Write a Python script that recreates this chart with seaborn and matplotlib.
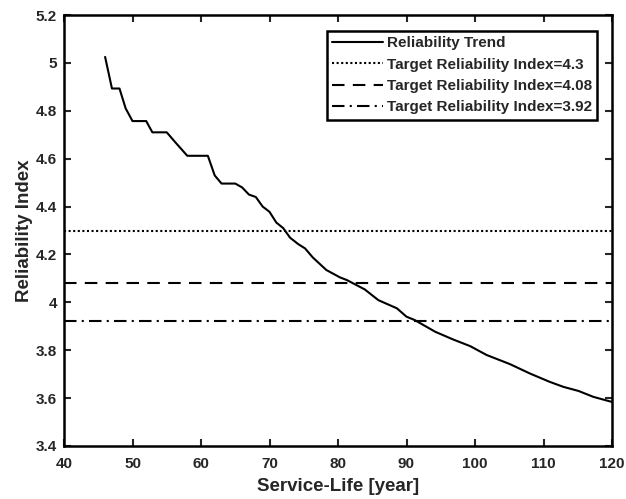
"""Reliability index vs service life with target reliability lines."""
import matplotlib
matplotlib.use("Agg")
import matplotlib.pyplot as plt
import numpy as np
import pandas as pd
import seaborn as sns
from matplotlib.ticker import FuncFormatter, MultipleLocator

# curve
service_life = [
    46.0, 47.0, 48.1, 49.0, 50.0, 52.0, 52.9, 55.0, 56.2, 58.0, 61.0, 62.0,
    63.0, 65.0, 66.0, 67.0, 68.0, 69.0, 70.0, 71.0, 72.0, 73.0, 74.2, 75.2,
    76.3, 78.3, 80.3, 81.3, 83.9, 85.9, 88.6, 90.0, 91.2, 94.2, 96.8, 99.3,
    101.7, 105.1, 108.0, 110.9, 112.9, 115.1, 117.3, 120.0,
]
reliability = [
    5.025, 4.893, 4.893, 4.81, 4.757, 4.757, 4.71, 4.71, 4.67, 4.612, 4.612, 4.53,
    4.496, 4.496, 4.48, 4.45, 4.44, 4.40, 4.378, 4.333, 4.31, 4.27, 4.243, 4.225,
    4.188, 4.135, 4.104, 4.093, 4.054, 4.009, 3.975, 3.94, 3.926, 3.877, 3.845, 3.817,
    3.78, 3.742, 3.703, 3.668, 3.647, 3.63, 3.605, 3.584,
]
target_values = [4.3, 4.08, 3.92]
target_labels = [f"Target Reliability Index={v:g}" for v in target_values]
trend_label = "Reliability Trend"

sns.set_theme(style="ticks")
plt.rcParams["font.family"] = ["Liberation Sans", "DejaVu Sans"]
plt.rcParams["font.weight"] = "bold"
plt.rcParams["axes.labelweight"] = "bold"

LW = 1.5
dash_styles = [(0, (1, 1.2)), (0, (6, 4)), (0, (6, 2.5, 1, 2.5))]

df = pd.DataFrame({"year": service_life, "beta": reliability})

fig, ax = plt.subplots(figsize=(6.26, 4.99), dpi=100)
fig.subplots_adjust(left=64 / 626, right=612 / 626, top=1 - 15 / 499, bottom=1 - 446 / 499)

sns.lineplot(data=df, x="year", y="beta", ax=ax, color="black", lw=LW,
             label=trend_label, sort=False)
for v, lab, ls in zip(target_values, target_labels, dash_styles):
    ax.axhline(v, color="black", lw=LW, ls=ls, label=lab)

ax.set_xlim(40, 120)
ax.set_ylim(3.4, 5.2)
ax.xaxis.set_major_locator(MultipleLocator(10))
ax.yaxis.set_major_locator(MultipleLocator(0.2))
ax.yaxis.set_major_formatter(FuncFormatter(lambda v, _: f"{v:g}"))
ax.set_xlabel("Service-Life [year]", fontsize=13.5, labelpad=5)
ax.set_ylabel("Reliability Index", fontsize=13.5, labelpad=2)

ax.tick_params(axis="both", direction="in", length=5, width=1.5, labelsize=11,
               top=True, right=True)
ax.tick_params(axis="x", pad=8)
ax.tick_params(axis="y", pad=5)
for lbl in ax.get_xticklabels() + ax.get_yticklabels():
    lbl.set_fontweight("bold")
for sp in ax.spines.values():
    sp.set_linewidth(1.8)
    sp.set_color("black")

leg = ax.legend(loc="upper right", bbox_to_anchor=(0.9726, 0.963), borderaxespad=0,
                handlelength=3.3, handletextpad=0.25, labelspacing=0.48,
                borderpad=0.35, fancybox=False, framealpha=1, edgecolor="black",
                prop={"weight": "bold", "size": 11})
leg.get_frame().set_linewidth(1.8)

fig.savefig("out.png", dpi=100, facecolor="white")
